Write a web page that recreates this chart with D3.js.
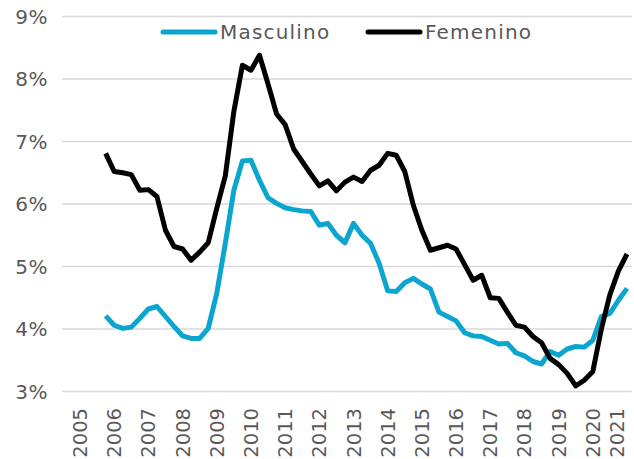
<!DOCTYPE html>
<html>
<head>
<meta charset="utf-8">
<script src="https://cdn.jsdelivr.net/npm/d3@7"></script>
<style>
  body { margin: 0; background: #fff; }
  svg { display: block; font-family: 'DejaVu Sans', sans-serif; }
</style>
</head>
<body>
<div id="chart"></div>
<script>
// quarterly series, first point = 2005 Q4 (quarter index 3 from 2005 Q1)
const firstQuarter = 3;
const yearTicks = d3.range(2005, 2022);
const yTicks = [3, 4, 5, 6, 7, 8, 9];

const masculino = [
  4.21, 4.06, 4.01, 4.03, 4.17, 4.32, 4.36, 4.20, 4.04, 3.89, 3.85, 3.85, 4.01,
  4.57, 5.37, 6.22, 6.69, 6.70, 6.38, 6.10, 6.01, 5.94, 5.91, 5.89, 5.88, 5.66,
  5.69, 5.50, 5.38, 5.69, 5.50, 5.37, 5.05, 4.61, 4.60, 4.74, 4.81, 4.72, 4.64,
  4.27, 4.20, 4.13, 3.94, 3.89, 3.88, 3.82, 3.76, 3.77, 3.62, 3.57, 3.48, 3.44,
  3.64, 3.58, 3.68, 3.72, 3.71, 3.82, 4.20, 4.25, 4.46, 4.65
];

const femenino = [
  6.81, 6.52, 6.50, 6.47, 6.22, 6.23, 6.12, 5.58, 5.32, 5.28, 5.10, 5.23, 5.38,
  5.93, 6.45, 7.48, 8.22, 8.14, 8.38, 7.92, 7.44, 7.27, 6.88, 6.68, 6.48, 6.29,
  6.37, 6.21, 6.35, 6.43, 6.36, 6.54, 6.62, 6.81, 6.78, 6.52, 5.98, 5.58, 5.26,
  5.30, 5.34, 5.28, 5.03, 4.78, 4.86, 4.50, 4.49, 4.27, 4.06, 4.03, 3.88, 3.78,
  3.53, 3.43, 3.29, 3.09, 3.18, 3.32, 4.00, 4.55, 4.93, 5.20
];

const seriesList = [
  { name: 'Masculino', values: masculino, color: '#0ba5cf' },
  { name: 'Femenino', values: femenino, color: '#000000' }
];

const width = 634;
const height = 459;
const textColor = '#595959';

const svg = d3.select('#chart').append('svg')
  .attr('width', width)
  .attr('height', height);

// x: quarter index since 2005 Q1
const x = d3.scaleLinear().domain([0, 64]).range([80, 627]);
const y = d3.scaleLinear().domain([3, 9]).range([391.5, 16.5]);

// gridlines + y labels
const yAxis = svg.append('g');
yAxis.selectAll('line')
  .data(yTicks)
  .join('line')
  .attr('x1', 62)
  .attr('x2', 632)
  .attr('y1', d => y(d))
  .attr('y2', d => y(d))
  .attr('stroke', '#d9d9d9')
  .attr('stroke-width', 1.5);

yAxis.selectAll('text')
  .data(yTicks)
  .join('text')
  .attr('x', 48)
  .attr('y', d => y(d))
  .attr('dy', '0.36em')
  .attr('text-anchor', 'end')
  .attr('fill', textColor)
  .attr('font-size', 20)
  .attr('letter-spacing', 0.5)
  .text(d => `${d}%`);

// x labels (rotated)
svg.append('g')
  .selectAll('text')
  .data(yearTicks)
  .join('text')
  .attr('transform', d => `translate(${Math.min(x((d - 2005) * 4), 617)},408) rotate(-90)`)
  .attr('dy', '0.36em')
  .attr('text-anchor', 'end')
  .attr('fill', textColor)
  .attr('font-size', 19.5)
  .text(d => d);

const line = d3.line()
  .x((d, i) => x(firstQuarter + i))
  .y(d => y(d));

svg.append('g')
  .selectAll('path')
  .data(seriesList)
  .join('path')
  .attr('d', s => line(s.values))
  .attr('fill', 'none')
  .attr('stroke', s => s.color)
  .attr('stroke-width', 5)
  .attr('stroke-linejoin', 'round');

// legend
const legendPos = [163, 368];
const legend = svg.append('g')
  .selectAll('g')
  .data(seriesList)
  .join('g')
  .attr('transform', (s, i) => `translate(${legendPos[i]},32)`);

legend.append('line')
  .attr('x1', 0)
  .attr('x2', 52)
  .attr('stroke', s => s.color)
  .attr('stroke-width', 5)
  .attr('stroke-linecap', 'round');

legend.append('text')
  .attr('x', 57)
  .attr('dy', '0.36em')
  .attr('fill', textColor)
  .attr('font-size', 20)
  .attr('letter-spacing', 1.2)
  .text(s => s.name);
</script>
</body>
</html>
